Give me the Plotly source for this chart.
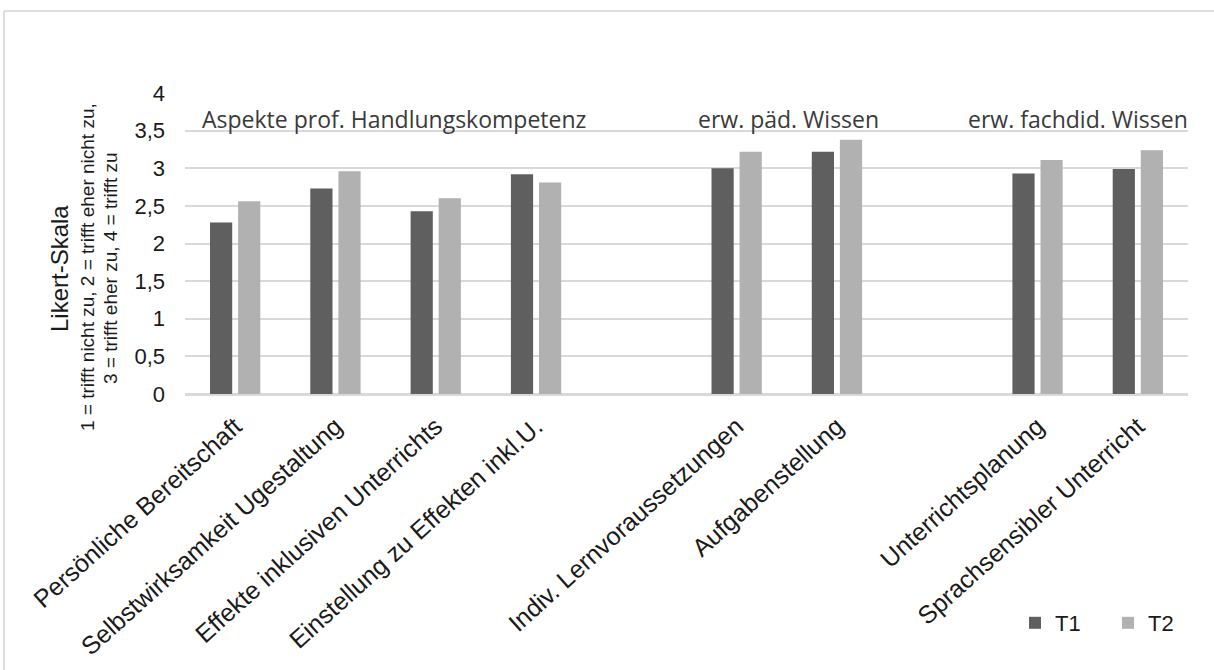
import plotly.graph_objects as go

# Items (empty strings are spacer slots between the three blocks)
categories = [
    "Persönliche Bereitschaft",
    "Selbstwirksamkeit Ugestaltung",
    "Effekte inklusiven Unterrichts",
    "Einstellung zu Effekten inkl.U.",
    "",
    "Indiv. Lernvoraussetzungen",
    "Aufgabenstellung",
    "",
    "Unterrichtsplanung",
    "Sprachsensibler Unterricht",
]
t1_values = [2.28, 2.73, 2.43, 2.92, None, 3.00, 3.22, None, 2.93, 2.99]
t2_values = [2.56, 2.96, 2.60, 2.81, None, 3.22, 3.38, None, 3.11, 3.24]

y_tickvals = [0, 0.5, 1, 1.5, 2, 2.5, 3, 3.5, 4]
y_ticktext = ["0", "0,5", "1", "1,5", "2", "2,5", "3", "3,5", "4"]

group_labels = ["Aspekte prof. Handlungskompetenz", "erw. päd. Wissen", "erw. fachdid. Wissen"]
group_label_x = [1.58, 5.52, 8.40]
group_label_y = 3.66

x_pos = list(range(len(categories)))

AX_FONT = "Liberation Sans, Arial, sans-serif"
GRID = "#d9d9d9"

fig = go.Figure()
fig.add_trace(go.Bar(x=x_pos, y=t1_values, name="T1",
                     marker=dict(color="#5f5f5f", line=dict(width=0))))
fig.add_trace(go.Bar(x=x_pos, y=t2_values, name="T2",
                     marker=dict(color="#b1b1b1", line=dict(width=0))))

# block headings
for txt, gx in zip(group_labels, group_label_x):
    fig.add_annotation(x=gx, y=group_label_y, xref="x", yref="y", text=txt,
                       showarrow=False, xanchor="center", yanchor="middle",
                       font=dict(family="Open Sans, sans-serif", size=23, color="#3a3a3a"))

# y-axis title block (three rotated lines)
L, B, W, H = 185, 394, 1003, 301
def px(xp):
    return (xp - L) / W
def py(yp):
    return (B - yp) / H

fig.add_annotation(x=px(59), y=py(268), xref="paper", yref="paper", text="Likert-Skala",
                   textangle=-90, showarrow=False, xanchor="center", yanchor="middle",
                   font=dict(family=AX_FONT, size=24, color="#1a1a1a"))
fig.add_annotation(x=px(87), y=py(267), xref="paper", yref="paper",
                   text="1 = trifft nicht zu, 2 = trifft eher nicht zu,",
                   textangle=-90, showarrow=False, xanchor="center", yanchor="middle",
                   font=dict(family=AX_FONT, size=19, color="#1a1a1a"))
fig.add_annotation(x=px(110), y=py(268), xref="paper", yref="paper",
                   text="3 = trifft eher zu, 4 = trifft zu",
                   textangle=-90, showarrow=False, xanchor="center", yanchor="middle",
                   font=dict(family=AX_FONT, size=19, color="#1a1a1a"))

# frame lines along top and left
fig.add_shape(type="line", xref="paper", yref="paper", x0=px(4), x1=px(1214), y0=py(11), y1=py(11),
              line=dict(color="#d4d4d4", width=1.5))
fig.add_shape(type="line", xref="paper", yref="paper", x0=px(4), x1=px(4), y0=py(11), y1=py(670),
              line=dict(color="#d4d4d4", width=1.5))

fig.update_layout(
    width=1214, height=670,
    margin=dict(l=L, r=1214 - L - W, t=B - H, b=670 - B, autoexpand=False),
    paper_bgcolor="white", plot_bgcolor="white",
    barmode="group", bargap=0.44, bargroupgap=0.21,
    showlegend=True,
    legend=dict(orientation="h", x=px(1015), y=py(623), xanchor="left", yanchor="middle",
                entrywidth=48, entrywidthmode="pixels",
                font=dict(family=AX_FONT, size=22, color="#1a1a1a"),
                bgcolor="rgba(0,0,0,0)"),
    xaxis=dict(range=[-0.5, len(categories) - 0.5], tickvals=x_pos, ticktext=categories,
               tickangle=-42, showgrid=False, zeroline=False,
               showline=True, linecolor=GRID, linewidth=2,
               ticks="", tickfont=dict(family=AX_FONT, size=25, color="#1a1a1a"),
               ticklabelstandoff=6),
    yaxis=dict(range=[0, 4], tickvals=y_tickvals, ticktext=y_ticktext,
               showgrid=True, gridcolor=GRID, gridwidth=2,
               zeroline=True, zerolinecolor=GRID, zerolinewidth=2,
               ticks="", tickfont=dict(family=AX_FONT, size=22, color="#1a1a1a"),
               ticklabelstandoff=19),
)

fig.write_html("out.html")
